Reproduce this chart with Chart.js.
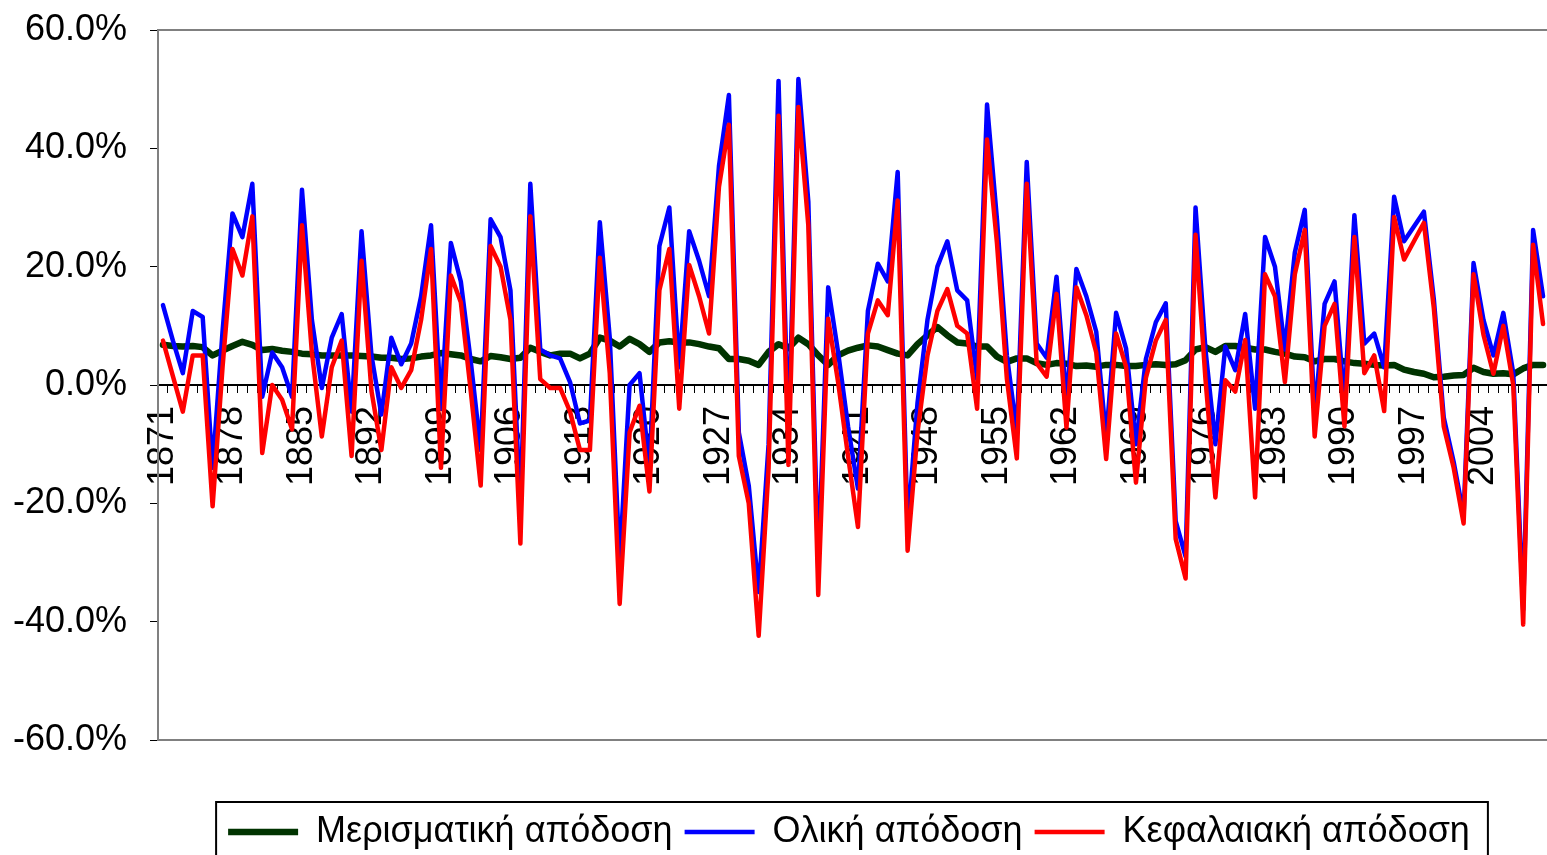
<!DOCTYPE html>
<html>
<head>
<meta charset="utf-8">
<script src="https://cdn.jsdelivr.net/npm/chart.js@4/dist/chart.umd.min.js"></script>
<style>
html,body{margin:0;padding:0;background:#fff;overflow:hidden;}
#wrap{width:1550px;height:870px;position:relative;}
</style>
</head>
<body>
<div id="wrap"><canvas id="c"></canvas></div>
<script>
// ---- data ----
const years = [
 '1871','1872','1873','1874','1875','1876','1877','1878','1879','1880',
 '1881','1882','1883','1884','1885','1886','1887','1888','1889','1890',
 '1891','1892','1893','1894','1895','1896','1897','1898','1899','1900',
 '1901','1902','1903','1904','1905','1906','1907','1908','1909','1910',
 '1911','1912','1913','1914','1915','1916','1917','1918','1919','1920',
 '1921','1922','1923','1924','1925','1926','1927','1928','1929','1930',
 '1931','1932','1933','1934','1935','1936','1937','1938','1939','1940',
 '1941','1942','1943','1944','1945','1946','1947','1948','1949','1950',
 '1951','1952','1953','1954','1955','1956','1957','1958','1959','1960',
 '1961','1962','1963','1964','1965','1966','1967','1968','1969','1970',
 '1971','1972','1973','1974','1975','1976','1977','1978','1979','1980',
 '1981','1982','1983','1984','1985','1986','1987','1988','1989','1990',
 '1991','1992','1993','1994','1995','1996','1997','1998','1999','2000',
 '2001','2002','2003','2004','2005','2006','2007','2008','2009','2010'
];
const dividendYield = [
 6.8, 6.6, 6.5, 6.6, 6.4, 5.0, 5.8, 6.6, 7.3, 6.8,
 5.9, 6.1, 5.8, 5.6, 5.3, 5.2, 5.0, 5.0, 5.0, 5.0,
 4.9, 4.8, 4.6, 4.6, 4.4, 4.5, 4.8, 5.0, 5.4, 5.2,
 5.0, 4.4, 4.0, 4.9, 4.7, 4.4, 4.6, 6.3, 5.6, 5.0,
 5.3, 5.3, 4.5, 5.3, 8.0, 7.5, 6.5, 7.8, 6.9, 5.6,
 7.2, 7.4, 7.2, 7.2, 6.9, 6.5, 6.2, 4.4, 4.4, 4.1,
 3.4, 5.6, 6.9, 6.2, 8.0, 6.9, 5.0, 3.4, 5.0, 5.8,
 6.3, 6.7, 6.5, 5.9, 5.3, 5.0, 6.9, 8.4, 9.8, 8.4,
 7.2, 7.0, 6.5, 6.5, 4.8, 3.9, 4.5, 4.5, 3.7, 3.4,
 3.7, 3.6, 3.2, 3.3, 3.1, 3.4, 3.4, 3.2, 3.2, 3.4,
 3.5, 3.4, 3.5, 4.2, 6.0, 6.4, 5.6, 6.6, 6.6, 6.3,
 6.0, 6.0, 5.6, 5.3, 4.8, 4.7, 4.0, 4.4, 4.4, 4.0,
 3.7, 3.6, 3.4, 3.3, 3.4, 2.6, 2.2, 1.9, 1.3, 1.4,
 1.6, 1.7, 2.9, 2.2, 1.9, 2.0, 1.8, 2.8, 3.4, 3.4
];
const totalReturn = [
 13.5, 7.5, 2.0, 12.5, 11.5, -14, 9, 29, 25, 34,
 -2, 5.5, 3, -2, 33, 11, -0.5, 8, 12, -4.5,
 26, 5, -5, 8, 3.5, 7, 15, 27, -4, 24,
 17.5, 4, -11, 28, 25, 16, -21, 34, 6, 5,
 4.5, 0.5, -6.5, -6, 27.5, 8, -30, 0, 2, -14,
 23.5, 30, 3, 26, 21, 15, 37, 49, -8, -17,
 -35, -10, 51.4, -9, 51.7, 31, -31, 16.5, 5.5, -7,
 -17.5, 12.5, 20.5, 17.5, 36, -24, -3, 11, 20, 24.3,
 16, 14.3, 1, 47.4, 28, 5, -8, 37.7, 7, 4.6,
 18.3, -3, 19.6, 15, 9, -9, 12.2, 6.2, -10, 4.4,
 10.6, 13.8, -23, -29, 30, 6, -10, 6.5, 2.5, 12,
 -4, 25, 20, 6, 22.4, 29.6, -5, 13.7, 17.5, -3,
 28.7, 7, 8.7, 3, 31.8, 24.3, 26.8, 29.3, 14.5, -5.5,
 -13, -22, 20.6, 11, 5, 12.2, 2, -38, 26.2, 15
];
const capitalReturn = [
 7.5, 1.5, -4.5, 5, 5, -20.5, 3, 23, 18.5, 28.5,
 -11.5, 0, -2.5, -7.5, 27, 5.5, -8.7, 3, 7.5, -12,
 21, -1, -11, 3, -0.5, 2.5, 11, 23, -14, 18.5,
 14, -1, -17, 23.5, 20, 11, -26.8, 28.5, 1, -0.5,
 -0.5, -4.5, -11, -11, 21.5, 2, -37, -8, -3.5, -18,
 16, 23, -4, 20.3, 15, 8.7, 33.5, 44, -12, -20,
 -42.4, -14, 45.5, -13.5, 47, 27, -35.5, 11.2, 0.5, -12,
 -24, 8.7, 14.3, 11.8, 31.2, -28, -8, 5, 12.5, 16.2,
 10, 8.7, -4, 41.5, 24, 1, -12.4, 34, 3.7, 1.4,
 15.4, -7.2, 16.5, 11.8, 5.5, -12.5, 8.7, 3.1, -16.5, 1.2,
 7.5, 11, -26, -32.7, 25.4, 1, -19, 0.8, -1.1, 7.6,
 -19, 18.7, 15, 0.5, 18.7, 26.2, -8.7, 10, 13.7, -7,
 25, 2, 5, -4.4, 28.4, 21.2, 24.3, 27.4, 13, -7,
 -14, -23.4, 18.7, 8.5, 1.9, 10, 0, -40.5, 23.7, 10.3
];
const xTickYears = ['1871','1878','1885','1892','1899','1906','1913','1920','1927','1934','1941','1948','1955','1962','1969','1976','1983','1990','1997','2004'];
const yTicks = [-60, -40, -20, 0, 20, 40, 60];
const seriesNames = ['Μερισματική απόδοση', 'Ολική απόδοση', 'Κεφαλαιακή απόδοση'];

// ---- styling ----
const FONT = "'Liberation Sans', Arial, sans-serif";

const plotFrame = {
  id: 'plotFrame',
  afterLayout(chart) {
    const lg = chart.legend;
    if (lg) { lg.left = 150; lg.width = lg.right - lg.left; }
  },
  beforeDatasetsDraw(chart) {
    const {ctx, chartArea: a} = chart;
    ctx.save();
    ctx.strokeStyle = '#808080';
    ctx.lineWidth = 2;
    ctx.strokeRect(a.left, a.top, a.right - a.left, a.bottom - a.top);
    ctx.restore();
  }
};
const legendFrame = {
  id: 'legendFrame',
  afterDraw(chart) {
    const lg = chart.legend;
    if (!lg || !lg.legendHitBoxes || !lg.legendHitBoxes.length) return;
    const hb = lg.legendHitBoxes;
    let l = Infinity, r = -Infinity, cy = 0;
    hb.forEach(b => { l = Math.min(l, b.left); r = Math.max(r, b.left + b.width); cy = b.top + b.height / 2; });
    const {ctx} = chart;
    ctx.save();
    ctx.strokeStyle = '#000';
    ctx.lineWidth = 2;
    ctx.strokeRect(l - 12, cy - 30, (r + 18) - (l - 12), 60);
    ctx.restore();
  }
};

new Chart(document.getElementById('c'), {
  type: 'line',
  data: {
    labels: years,
    datasets: [
      { label: seriesNames[0], data: dividendYield, borderColor: '#003300', backgroundColor: '#003300', borderWidth: 6.5, order: 3 },
      { label: seriesNames[1], data: totalReturn, borderColor: '#0000ff', backgroundColor: '#0000ff', borderWidth: 4.5, order: 2 },
      { label: seriesNames[2], data: capitalReturn, borderColor: '#ff0000', backgroundColor: '#ff0000', borderWidth: 4.5, order: 1 }
    ]
  },
  options: {
    responsive: true,
    maintainAspectRatio: false,
    animation: false,
    devicePixelRatio: 1,
    layout: { padding: { top: 30, left: 0, right: 2, bottom: 10 } },
    elements: {
      point: { radius: 0, hoverRadius: 0 },
      line: { tension: 0, borderJoinStyle: 'round', borderCapStyle: 'round', fill: false }
    },
    plugins: {
      tooltip: { enabled: false },
      legend: {
        position: 'bottom',
        title: { display: true, text: '', font: { size: 10 }, padding: { top: 50, bottom: 0 } },
        labels: {
          color: '#000',
          font: { family: FONT, size: 36 },
          usePointStyle: true,
          pointStyle: 'line',
          pointStyleWidth: 70,
          padding: 12,
          sort: (a, b) => a.datasetIndex - b.datasetIndex
        }
      }
    },
    scales: {
      x: {
        type: 'category',
        position: { y: 0 },
        offset: true,
        grid: { offset: true, drawOnChartArea: false, drawTicks: true, tickLength: 7, color: '#000', lineWidth: 1 },
        border: { display: true, color: '#000', width: 2 },
        ticks: {
          autoSkip: false,
          minRotation: 90,
          maxRotation: 90,
          padding: 14,
          color: '#000',
          font: { family: FONT, size: 36 },
          callback: function (value) {
            const lab = this.getLabelForValue(value);
            return xTickYears.includes(lab) ? lab : '';
          }
        },
        afterFit: s => { s.paddingLeft = 0; s.paddingRight = 0; }
      },
      y: {
        min: yTicks[0],
        max: yTicks[yTicks.length - 1],
        grid: { drawOnChartArea: false, drawTicks: true, tickLength: 8, color: '#000', lineWidth: 1 },
        border: { display: true, color: '#333', width: 2 },
        afterBuildTicks: s => { s.ticks = yTicks.map(v => ({ value: v })); },
        afterFit: s => { s.width = 158; s.paddingTop = 0; s.paddingBottom = 0; },
        ticks: {
          padding: 23,
          color: '#000',
          font: { family: FONT, size: 36 },
          callback: v => v.toFixed(1) + '%'
        }
      }
    }
  },
  plugins: [plotFrame, legendFrame]
});
</script>
</body>
</html>
